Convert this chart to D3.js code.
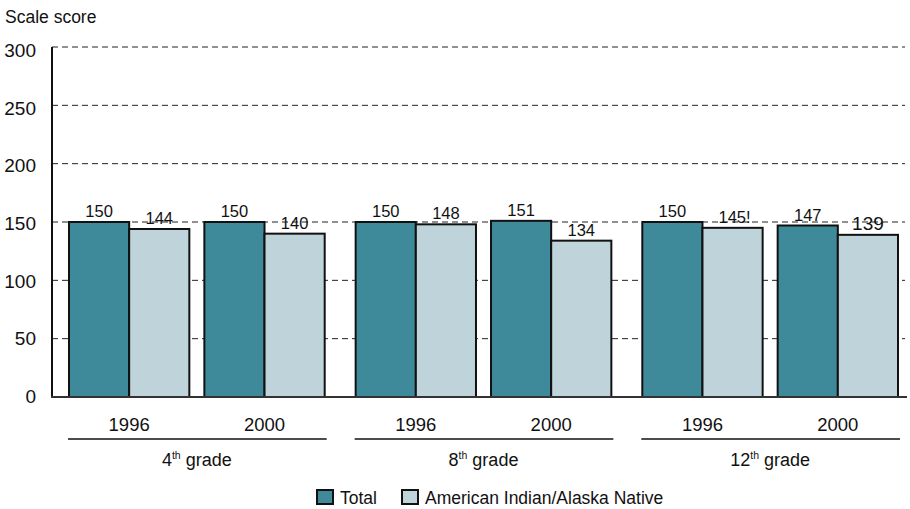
<!DOCTYPE html>
<html>
<head>
<meta charset="utf-8">
<script src="https://cdn.jsdelivr.net/npm/d3@7"></script>
<style>
  body { margin: 0; background: #fff; }
  svg { display: block; font-family: "Liberation Sans", Arial, sans-serif; }
</style>
</head>
<body>
<div id="chart"></div>
<script>
// values
const grades = ["4", "8", "12"];
const gradeSup = "th";
const years = ["1996", "2000"];
const series = ["Total", "American Indian/Alaska Native"];
const totalScores = [150, 150, 150, 151, 150, 147];
const aianScores = [144, 140, 148, 134, 145, 139];
const aianLabels = ["144", "140", "148", "134", "145!", "139"];
const yTicks = [0, 50, 100, 150, 200, 250, 300];

const colors = { "Total": "#3e8a9a", "American Indian/Alaska Native": "#bed4da" };

const width = 910, height = 509;
const svg = d3.select("#chart").append("svg")
  .attr("width", width)
  .attr("height", height);

const plotLeft = 52, plotRight = 905, plotTop = 47, plotBottom = 397;

const y = d3.scaleLinear().domain([0, 300]).range([plotBottom, plotTop]);

// nested band scales: grade -> year -> series
const xGrade = d3.scaleBand().domain(grades).range([69, 898]).paddingInner(0.108).paddingOuter(0);
const xYear = d3.scaleBand().domain(years).range([0, xGrade.bandwidth()]).paddingInner(0.111);
const xSeries = d3.scaleBand().domain(series).range([0, xYear.bandwidth()]);

// flat records
const rows = [];
grades.forEach((g, gi) => {
  years.forEach((yr, yi) => {
    const i = gi * years.length + yi;
    rows.push({ grade: g, year: yr, series: series[0], value: totalScores[i], label: String(totalScores[i]) });
    rows.push({ grade: g, year: yr, series: series[1], value: aianScores[i], label: aianLabels[i] });
  });
});
const xOf = d => xGrade(d.grade) + xYear(d.year) + xSeries(d.series);

// y label
svg.append("text")
  .attr("x", 5).attr("y", 23)
  .attr("font-size", 17.5)
  .attr("fill", "#111")
  .text("Scale score");

// gridlines
svg.append("g")
  .selectAll("line")
  .data(yTicks.filter(t => t > 0))
  .join("line")
  .attr("x1", plotLeft).attr("x2", plotRight)
  .attr("y1", d => y(d)).attr("y2", d => y(d))
  .attr("stroke", "#222")
  .attr("stroke-width", 1)
  .attr("stroke-dasharray", "6,4");

// y tick labels
svg.append("g")
  .selectAll("text")
  .data(yTicks)
  .join("text")
  .attr("x", 36)
  .attr("y", d => y(d) + 6 + d / 75)
  .attr("text-anchor", "end")
  .attr("font-size", 19)
  .attr("fill", "#111")
  .text(d => d);

// bars
svg.append("g")
  .selectAll("rect")
  .data(rows)
  .join("rect")
  .attr("x", d => xOf(d))
  .attr("y", d => y(d.value))
  .attr("width", xSeries.bandwidth())
  .attr("height", d => y(0) - y(d.value))
  .attr("fill", d => colors[d.series])
  .attr("stroke", "#111")
  .attr("stroke-width", 2);

// value labels
svg.append("g")
  .selectAll("text")
  .data(rows)
  .join("text")
  .attr("x", d => xOf(d) + xSeries.bandwidth() / 2 + (d.label.endsWith("!") ? 2 : 0))
  .attr("y", d => y(d.value) - 5)
  .attr("text-anchor", "middle")
  .attr("font-size", d => d.label === "139" ? 19 : 16.5)
  .attr("fill", "#111")
  .text(d => d.label);

// axes lines
svg.append("line")
  .attr("x1", plotLeft).attr("x2", plotLeft)
  .attr("y1", plotTop).attr("y2", plotBottom)
  .attr("stroke", "#111").attr("stroke-width", 2);
svg.append("line")
  .attr("x1", plotLeft - 1).attr("x2", plotRight + 2)
  .attr("y1", plotBottom).attr("y2", plotBottom)
  .attr("stroke", "#333").attr("stroke-width", 2);

// year labels
const yearLabels = [];
grades.forEach(g => years.forEach(yr => yearLabels.push({ grade: g, year: yr })));
svg.append("g")
  .selectAll("text")
  .data(yearLabels)
  .join("text")
  .attr("x", d => xGrade(d.grade) + xYear(d.year) + xYear.bandwidth() / 2)
  .attr("y", 431)
  .attr("text-anchor", "middle")
  .attr("font-size", 18.5)
  .attr("fill", "#111")
  .text(d => d.year);

// grade underlines and labels
svg.append("g")
  .selectAll("line")
  .data(grades)
  .join("line")
  .attr("x1", d => xGrade(d) - 1).attr("x2", d => xGrade(d) + xGrade.bandwidth() + 2)
  .attr("y1", 439).attr("y2", 439)
  .attr("stroke", "#111").attr("stroke-width", 1.5);

const gl = svg.append("g")
  .selectAll("text")
  .data(grades)
  .join("text")
  .attr("x", d => xGrade(d) + xGrade.bandwidth() / 2)
  .attr("y", 466)
  .attr("text-anchor", "middle")
  .attr("font-size", 18)
  .attr("fill", "#111");
gl.append("tspan").text(d => d);
gl.append("tspan").attr("font-size", 10.5).attr("dy", -7).text(gradeSup);
gl.append("tspan").attr("dy", 7).text(" grade");

// legend
const legendX = [317, 402];
const lg = svg.append("g")
  .selectAll("g")
  .data(series)
  .join("g")
  .attr("transform", (d, i) => `translate(${legendX[i]},490)`);
lg.append("rect")
  .attr("width", 16).attr("height", 14)
  .attr("fill", d => colors[d])
  .attr("stroke", "#111").attr("stroke-width", 2);
lg.append("text")
  .attr("x", 23).attr("y", 14)
  .attr("font-size", 17.5)
  .attr("fill", "#111")
  .text(d => d);
</script>
</body>
</html>
